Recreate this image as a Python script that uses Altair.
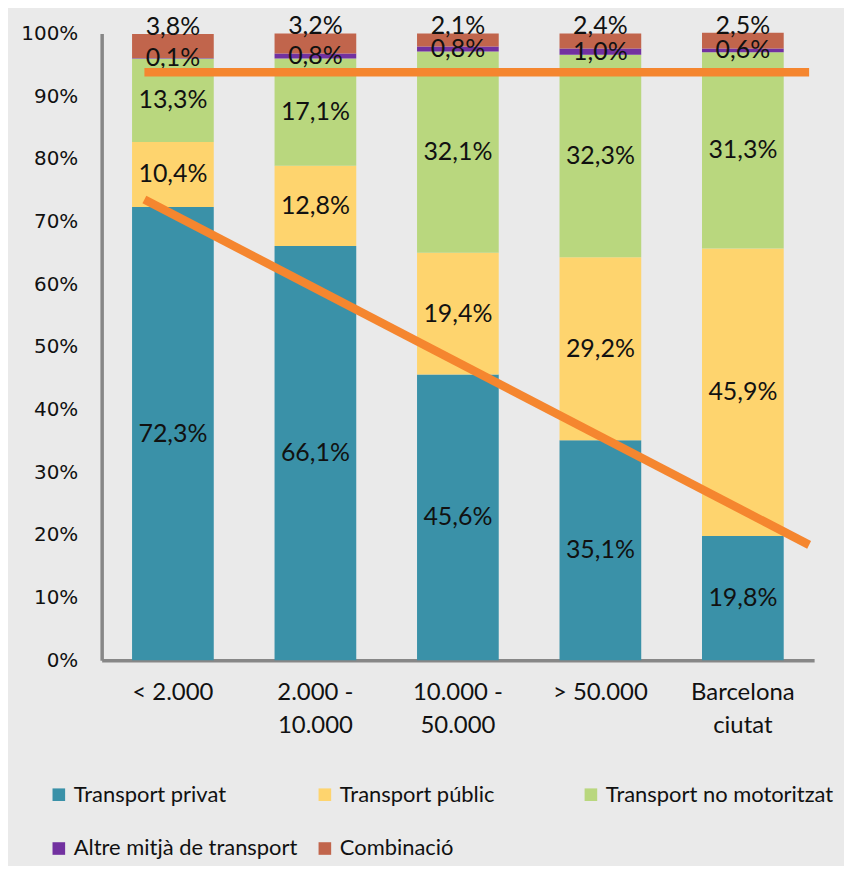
import altair as alt
import pandas as pd

categories = ["< 2.000", "2.000 -|10.000", "10.000 -|50.000", "> 50.000", "Barcelona|ciutat"]
series = ["Transport privat", "Transport públic", "Transport no motoritzat",
          "Altre mitjà de transport", "Combinació"]
colors = ["#3A91A8", "#FED46E", "#B9D77E", "#7231A0", "#C1654C"]

privat = [72.3, 66.1, 45.6, 35.1, 19.8]
public = [10.4, 12.8, 19.4, 29.2, 45.9]
no_motor = [13.3, 17.1, 32.1, 32.3, 31.3]
altre = [0.1, 0.8, 0.8, 1.0, 0.6]
combinacio = [3.8, 3.2, 2.1, 2.4, 2.5]

# hand-drawn trend lines (category index units, percent)
trend_x = [-0.2, 4.465]
trend_flat = [93.8, 93.8]
trend_down = [73.5, 18.4]

values = [privat, public, no_motor, altre, combinacio]
rows = []
for ci, cat in enumerate(categories):
    acc = 0.0
    for si, s in enumerate(series):
        v = values[si][ci]
        rows.append({
            "cat": cat, "series": s, "order": si, "value": v,
            "start": acc, "end": acc + v, "mid": acc + v / 2,
            "label": f"{v:.1f}".replace(".", ",") + "%",
            "top": si == len(series) - 1,
        })
        acc += v
df = pd.DataFrame(rows)

trend_rows = []
for name, ys in [("flat", trend_flat), ("down", trend_down)]:
    for x, y in zip(trend_x, ys):
        trend_rows.append({"line": name, "x": x, "y": y})
tdf = pd.DataFrame(trend_rows)

xscale = alt.Scale(paddingInner=0.4266, paddingOuter=0.2133)
yscale = alt.Scale(domain=[0, 100])

base = alt.Chart(df)

bars = base.mark_bar(size=82).encode(
    x=alt.X("cat:N", sort=categories, scale=xscale, title=None,
            axis=alt.Axis(labelAngle=0, labelExpr="split(datum.label, '|')",
                          labelFont="Lato", labelFontSize=24, labelColor="#111",
                          labelLineHeight=34, labelPadding=20, ticks=False,
                          domainColor="#878787", domainWidth=3.5)),
    y=alt.Y("start:Q", scale=yscale, title=None,
            axis=alt.Axis(values=list(range(0, 101, 10)), labelExpr="datum.value + '%'",
                          labelFont="DejaVu Sans", labelFontSize=20, labelColor="#111",
                          labelPadding=24, ticks=False, grid=False,
                          domainColor="#878787", domainWidth=3.5)),
    y2="end:Q",
    color=alt.Color("series:N", scale=alt.Scale(domain=series, range=colors),
                    legend=alt.Legend(title=None, orient="none", legendX=-54, legendY=753,
                                      direction="horizontal", columns=3,
                                      symbolType="square", symbolSize=160,
                                      symbolStrokeWidth=0, symbolOpacity=1,
                                      labelFont="Lato", labelFontSize=22, labelColor="#111",
                                      labelLimit=300, gridAlign="all",
                                      columnPadding=12, rowPadding=32, labelOffset=4)),
    order=alt.Order("order:Q"),
)

mid_labels = base.transform_filter("!datum.top").mark_text(
    font="Lato", fontSize=25, color="#111", baseline="middle"
).encode(
    x=alt.X("cat:N", sort=categories, scale=xscale),
    y=alt.Y("mid:Q", scale=yscale),
    text="label:N",
)

top_labels = base.transform_filter("datum.top").mark_text(
    font="Lato", fontSize=25, color="#111", baseline="middle", dy=-7
).encode(
    x=alt.X("cat:N", sort=categories, scale=xscale),
    y=alt.Y("end:Q", scale=yscale),
    text="label:N",
)

bars_layer = alt.layer(bars, mid_labels, top_labels)

trend = alt.Chart(tdf).mark_line(color="#F5862F", strokeWidth=8.5, strokeCap="butt", clip=False).encode(
    x=alt.X("x:Q", scale=alt.Scale(domain=[-0.5, 4.5], nice=False, zero=False), axis=None),
    y=alt.Y("y:Q", scale=yscale),
    detail="line:N",
)

chart = alt.layer(bars_layer, trend).resolve_scale(x="independent").properties(
    width=715, height=629,
    autosize=alt.AutoSizeParams(type="none"),
    padding={"left": 94, "top": 24, "right": 30, "bottom": 205},
    background="#EAEAEA",
).configure_view(stroke=None)

chart.save("out.html", embed_options={"renderer": "svg", "actions": False})
